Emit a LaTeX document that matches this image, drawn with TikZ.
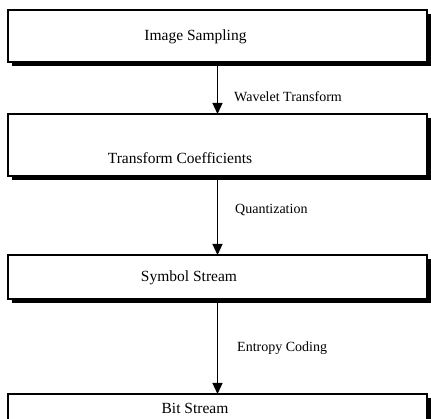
\documentclass[tikz,border=0pt]{standalone}
\usepackage{fontspec}
\setmainfont{Liberation Serif}
\usetikzlibrary{arrows.meta}
\begin{document}
\begin{tikzpicture}[x=1pt,y=-1pt,
  stage/.style={draw=black,line width=1.4pt,fill=white,minimum width=419pt,
    inner sep=0pt,outer sep=0pt},
  shade/.style={fill=black},
  txt/.style={font=\fontsize{15.5}{18}\selectfont,inner sep=0pt},
  lbl/.style={font=\fontsize{14}{17}\selectfont,inner sep=0pt,anchor=west},
  flow/.style={line width=1.3pt,-{Triangle[width=10pt,length=11pt]}}]
\useasboundingbox (0,0) rectangle (431,419);
\fill[white] (0,0) rectangle (431,419);
% shadows first
\fill[shade] (12,14) rectangle (431,66);
\fill[shade] (12,118) rectangle (431,180);
\fill[shade] (12,259) rectangle (431,303);
\fill[shade] (12,398) rectangle (431,425);
\node[stage,minimum height=52pt] (b1) at (217.5,36) {};
\node[stage,minimum height=62pt] (b2) at (217.5,145) {};
\node[stage,minimum height=44pt] (b3) at (217.5,277) {};
\node[stage,minimum height=30pt] (b4) at (217.5,409) {};
\node[txt] (t1) at (195.5,37) {Image Sampling};
\node[txt] (t2) at (180,158) {Transform Coefficients};
\node[txt] (t3) at (189,278) {Symbol Stream};
\node[txt] (t4) at (195,408) {Bit Stream};
\draw[flow] (b1.south) -- (b2.north);
\draw[flow] (b2.south) -- (b3.north);
\draw[flow] (b3.south) -- (b4.north);
\node[lbl] (l1) at (234,97) {Wavelet Transform};
\node[lbl] (l2) at (235,210) {Quantization};
\node[lbl] (l3) at (237,348) {Entropy Coding};
\end{tikzpicture}
\end{document}
